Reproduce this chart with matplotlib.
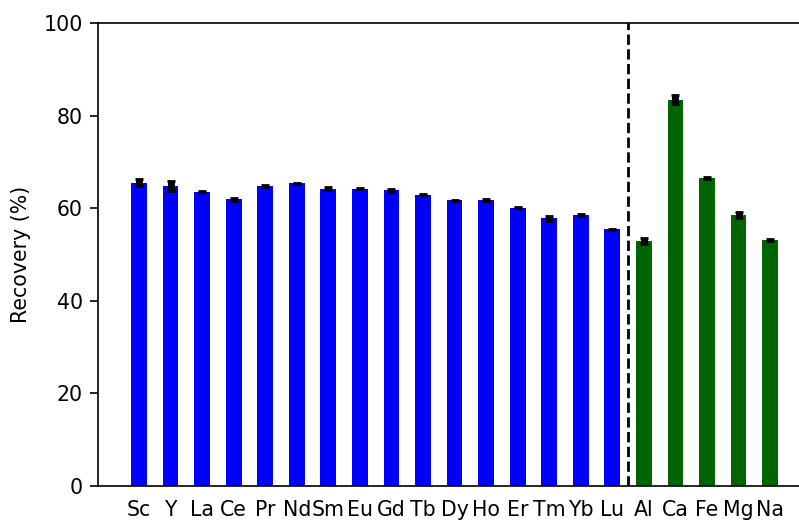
import numpy as np
import matplotlib
matplotlib.use('Agg')
import matplotlib.pyplot as plt

# Recovery of rare earth elements and matrix elements
ree = ['Sc', 'Y', 'La', 'Ce', 'Pr', 'Nd', 'Sm', 'Eu', 'Gd', 'Tb',
       'Dy', 'Ho', 'Er', 'Tm', 'Yb', 'Lu']
ree_rec = [65.5, 64.8, 63.6, 61.9, 64.8, 65.4, 64.2, 64.2, 63.9, 62.9,
           61.7, 61.8, 60.1, 57.8, 58.5, 55.4]
ree_err = [0.7, 1.0, 0.15, 0.25, 0.2, 0.1, 0.35, 0.15, 0.35, 0.1,
           0.1, 0.15, 0.1, 0.5, 0.2, 0.2]

matrix = ['Al', 'Ca', 'Fe', 'Mg', 'Na']
matrix_rec = [53.0, 83.4, 66.5, 58.5, 53.1]
matrix_err = [0.65, 1.0, 0.2, 0.6, 0.15]

plt.rcParams['font.family'] = 'DejaVu Sans'
plt.rcParams['font.size'] = 14.8

fig = plt.figure(figsize=(7.99, 5.21), dpi=100)
ax = fig.add_axes([98/799, 35/521, 710/799, 463/521])

x_ree = np.arange(len(ree))
x_mat = np.arange(len(matrix)) + len(ree)
err_kw = dict(ecolor='k', elinewidth=5, capsize=3, capthick=2)
ax.bar(x_ree, ree_rec, width=0.5, color='blue', yerr=ree_err, error_kw=err_kw)
ax.bar(x_mat, matrix_rec, width=0.5, color='darkgreen', yerr=matrix_err, error_kw=err_kw)

# split between REEs and matrix elements
ax.axvline(len(ree) - 0.5, color='k', ls='--', lw=2)

ax.set_xticks(np.concatenate([x_ree, x_mat]))
ax.set_xticklabels(ree + matrix)
ax.tick_params(axis='x', length=0, pad=10)
ax.tick_params(axis='y', length=6, width=1.2, pad=5)
ax.set_xlim(-1.3, 21.2)
ax.set_ylim(0, 100)
ax.set_yticks([0, 20, 40, 60, 80, 100])
ax.set_ylabel('Recovery (%)', labelpad=9)
for s in ax.spines.values():
    s.set_linewidth(1.2)

plt.savefig('out.png', dpi=100, facecolor='w')
